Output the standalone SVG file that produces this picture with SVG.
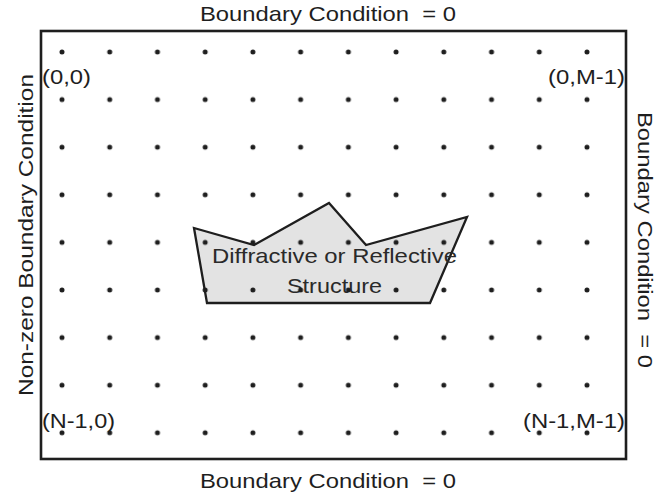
<svg xmlns="http://www.w3.org/2000/svg" width="658" height="498" viewBox="0 0 658 498">
<style>
.t{font-family:"Liberation Sans",Arial,Helvetica,sans-serif;font-size:21px;fill:#1e1e1e}
.lbl{font-family:"Liberation Sans",Arial,Helvetica,sans-serif;font-size:21px;fill:#1e1e1e}
.st{font-family:"Liberation Sans",Arial,Helvetica,sans-serif;font-size:21px;fill:#2a2a2a}
</style>
<defs>
<pattern id="dots" patternUnits="userSpaceOnUse" x="38.135" y="28.2" width="47.727" height="47.6">
<circle cx="23.865" cy="23.8" r="2.5" fill="#1e1e1e"/>
</pattern>
</defs>
<rect width="658" height="498" fill="#fff"/>
<g id="domain">
<rect x="41" y="31" width="585" height="428" fill="none" stroke="#1e1e1e" stroke-width="2.6"/>
</g>
<g id="structure">
<polygon points="194,228 254,245 329,203 366,245 467,217 430,303 207,303" fill="#e3e3e3" stroke="#1e1e1e" stroke-width="2.3" stroke-linejoin="miter"/>
<text class="st" x="212" y="263" textLength="245" lengthAdjust="spacingAndGlyphs">Diffractive or Reflective</text>
<text class="st" x="287" y="293" textLength="95" lengthAdjust="spacingAndGlyphs">Structure</text>
</g>
<g id="grid">
<rect x="40" y="30" width="572" height="428" fill="url(#dots)"/>
</g>
<g id="labels">
<text class="lbl" x="42" y="84" textLength="49" lengthAdjust="spacingAndGlyphs">(0,0)</text>
<text class="lbl" x="548" y="84" textLength="77" lengthAdjust="spacingAndGlyphs">(0,M-1)</text>
<text class="lbl" x="42" y="428" textLength="73" lengthAdjust="spacingAndGlyphs">(N-1,0)</text>
<text class="lbl" x="523" y="428" textLength="102" lengthAdjust="spacingAndGlyphs">(N-1,M-1)</text>
</g>
<g id="boundaries">
<text class="t" x="200" y="21" textLength="256" lengthAdjust="spacingAndGlyphs" xml:space="preserve">Boundary Condition  = 0</text>
<text class="t" x="200" y="488" textLength="256" lengthAdjust="spacingAndGlyphs" xml:space="preserve">Boundary Condition  = 0</text>
<text class="t" transform="translate(33,396) rotate(-90)" x="0" y="0" textLength="322" lengthAdjust="spacingAndGlyphs">Non-zero Boundary Condition</text>
<text class="t" transform="translate(638,112) rotate(90)" x="0" y="0" textLength="256" lengthAdjust="spacingAndGlyphs" xml:space="preserve">Boundary Condition  = 0</text>
</g>
</svg>
